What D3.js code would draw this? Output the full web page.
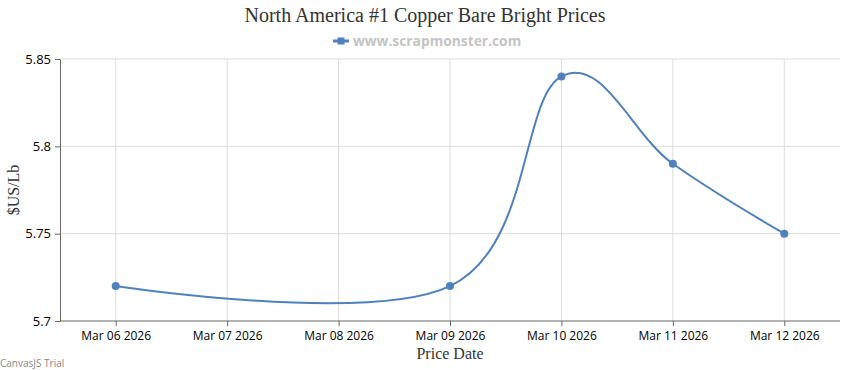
<!DOCTYPE html>
<html>
<head>
<meta charset="utf-8">
<script src="https://cdn.jsdelivr.net/npm/d3@7"></script>
<style>
  body { margin: 0; background: #fff; }
</style>
</head>
<body>
<div id="chart"></div>
<script>
const tickDates = ["2026-03-06", "2026-03-07", "2026-03-08", "2026-03-09", "2026-03-10", "2026-03-11", "2026-03-12"];
const priceDates = ["2026-03-06", "2026-03-09", "2026-03-10", "2026-03-11", "2026-03-12"];
const prices = [5.72, 5.72, 5.84, 5.79, 5.75];
const yTicks = [5.7, 5.75, 5.8, 5.85];

const chart = (() => {
  const width = 850;
  const height = 370;
  const margin = { top: 59, right: 10, bottom: 49, left: 60 };
  const color = "#4f81bc";
  const parse = d3.utcParse("%Y-%m-%d");
  const fmt = d3.utcFormat("%b %d %Y");

  const ticks = tickDates.map(parse);
  const data = priceDates.map((d, i) => ({ date: parse(d), value: prices[i] }));

  const halfDay = 12 * 3600 * 1000;
  const x = d3.scaleUtc()
    .domain([+ticks[0] - halfDay, +ticks[ticks.length - 1] + halfDay])
    .range([margin.left, width - margin.right]);
  const y = d3.scaleLinear()
    .domain([5.7, 5.85])
    .range([height - margin.bottom, margin.top]);

  const svg = d3.select("#chart").append("svg")
    .attr("width", width)
    .attr("height", height)
    .attr("viewBox", [0, 0, width, height]);

  // Title and legend.
  svg.append("text")
    .attr("x", width / 2).attr("y", 22)
    .attr("text-anchor", "middle")
    .attr("font-family", "'Liberation Serif', 'Times New Roman', serif")
    .attr("font-size", 20)
    .attr("fill", "#333")
    .text("North America #1 Copper Bare Bright Prices");

  const legend = svg.append("g").attr("transform", "translate(333,41)");
  legend.append("line").attr("x1", 0).attr("x2", 16).attr("y1", 0).attr("y2", 0)
    .attr("stroke", color).attr("stroke-width", 3);
  legend.append("rect").attr("x", 4.5).attr("y", -3.5).attr("width", 7).attr("height", 7)
    .attr("fill", color);
  legend.append("text")
    .attr("x", 20).attr("y", 4.5)
    .attr("font-family", "'Open Sans', 'DejaVu Sans', sans-serif")
    .attr("font-weight", "bold")
    .attr("font-size", 13.8)
    .attr("fill", "#c4c4c4")
    .text("www.scrapmonster.com");

  // Grid lines.
  svg.append("g")
    .selectAll("line")
    .data(ticks)
    .join("line")
    .attr("x1", d => x(d)).attr("x2", d => x(d))
    .attr("y1", margin.top).attr("y2", height - margin.bottom)
    .attr("stroke", "#dcdcdc");
  svg.append("g")
    .selectAll("line")
    .data(yTicks.slice(1))
    .join("line")
    .attr("x1", margin.left).attr("x2", width - margin.right)
    .attr("y1", d => y(d)).attr("y2", d => y(d))
    .attr("stroke", "#dcdcdc");

  const tickFont = "'Open Sans', 'DejaVu Sans', sans-serif";

  // X axis.
  const xAxis = svg.append("g")
    .attr("transform", `translate(0,${height - margin.bottom})`)
    .call(d3.axisBottom(x).tickValues(ticks).tickFormat(fmt).tickSize(5).tickSizeOuter(0));
  xAxis.select(".domain").attr("stroke", "#666").attr("d", `M${margin.left},0H${width - margin.right}`);
  xAxis.selectAll(".tick line").attr("stroke", "#666");
  xAxis.selectAll(".tick text")
    .attr("font-family", tickFont).attr("font-size", 12).attr("fill", "#000").attr("dy", "0.95em");

  // Y axis.
  const yAxis = svg.append("g")
    .attr("transform", `translate(${margin.left},0)`)
    .call(d3.axisLeft(y).tickValues(yTicks).tickFormat(d3.format("")).tickSize(5).tickSizeOuter(0));
  yAxis.select(".domain").attr("stroke", "#666");
  yAxis.selectAll(".tick line").attr("stroke", "#666");
  yAxis.selectAll(".tick text")
    .attr("font-family", tickFont).attr("font-size", 13).attr("fill", "#000").attr("x", -9);

  // Axis titles.
  svg.append("text")
    .attr("x", (margin.left + width - margin.right) / 2).attr("y", 359)
    .attr("text-anchor", "middle")
    .attr("font-family", "'Liberation Serif', 'Times New Roman', serif")
    .attr("font-size", 16).attr("fill", "#333")
    .text("Price Date");
  svg.append("text")
    .attr("transform", `translate(19,${(margin.top + height - margin.bottom) / 2}) rotate(-90)`)
    .attr("text-anchor", "middle")
    .attr("font-family", "'Liberation Serif', 'Times New Roman', serif")
    .attr("font-size", 16).attr("fill", "#333")
    .text("$US/Lb");

  // Spline and markers.
  const line = d3.line()
    .x(d => x(d.date))
    .y(d => y(d.value))
    .curve(d3.curveCardinal.tension(-0.1));
  svg.append("path")
    .datum(data)
    .attr("fill", "none")
    .attr("stroke", color)
    .attr("stroke-width", 2)
    .attr("d", line);
  svg.append("g")
    .selectAll("circle")
    .data(data)
    .join("circle")
    .attr("cx", d => x(d.date))
    .attr("cy", d => y(d.value))
    .attr("r", 4)
    .attr("fill", color);

  svg.append("text")
    .attr("x", 0).attr("y", 367)
    .attr("font-family", tickFont)
    .attr("font-size", 10).attr("fill", "#888")
    .text("CanvasJS Trial");

  return svg.node();
})();
</script>
</body>
</html>
